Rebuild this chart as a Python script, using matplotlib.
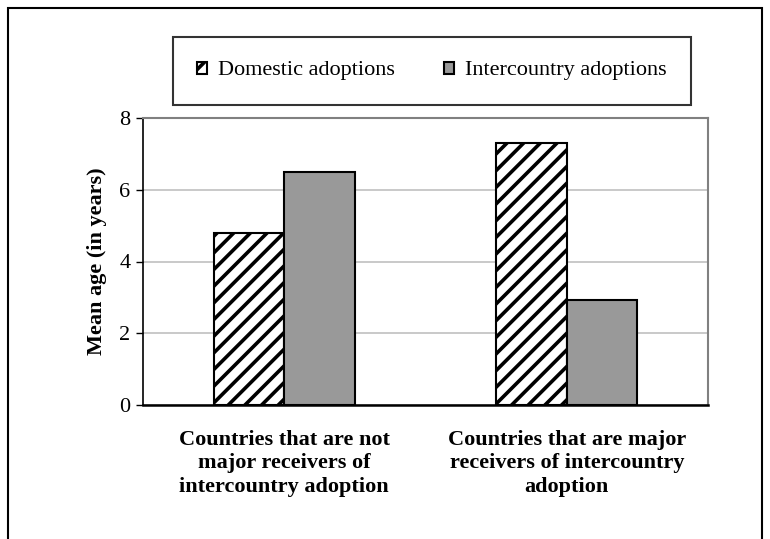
import numpy as np
import matplotlib.pyplot as plt
from matplotlib.patches import Rectangle

categories = ['Countries that are not\nmajor receivers of\nintercountry adoption',
              'Countries that are major\nreceivers of intercountry\nadoption']
domestic = [4.8, 7.3]
intercountry = [6.5, 2.93]
series_names = ['Domestic adoptions', 'Intercountry adoptions']
yticks = [0, 2, 4, 6, 8]

plt.rcParams['font.family'] = ['Liberation Serif', 'DejaVu Serif']
plt.rcParams['hatch.linewidth'] = 2.6

fig = plt.figure(figsize=(7.7, 5.39), dpi=100)
ax = fig.add_axes([143/770, 1-405/539, 565/770, 287/539])

x = np.arange(len(categories))
w = 0.25
ax.bar(x - w/2, domestic, w, color='white', edgecolor='black', hatch='//',
       linewidth=1.5, label=series_names[0], zorder=3)
ax.bar(x + w/2, intercountry, w, color='#999999', edgecolor='black',
       linewidth=1.5, label=series_names[1], zorder=3)

ax.set_xlim(-0.5, 1.5)
ax.set_ylim(0, 8)
ax.set_yticks(yticks)
ax.yaxis.grid(True, color='#c0c0c0', linewidth=1.2, zorder=0)
ax.set_axisbelow(True)
ax.tick_params(axis='y', labelsize=16, length=5, width=1, direction='out', pad=4)
ax.set_xticks(x)
ax.set_xticklabels(categories, fontsize=16, fontweight='bold', linespacing=1.22)
ax.tick_params(axis='x', length=0, pad=18)
ax.set_ylabel('Mean age (in years)', fontsize=16, fontweight='bold', labelpad=9)

for s in ['top', 'right']:
    ax.spines[s].set_color('#808080')
    ax.spines[s].set_linewidth(1.5)
ax.spines['left'].set_linewidth(1.2)
ax.spines['bottom'].set_linewidth(1.8)

leg = fig.legend(loc='center', bbox_to_anchor=(432/770, 1-71/539), ncol=2,
                 frameon=True, fancybox=False, edgecolor='black', fontsize=16,
                 handlelength=0.45, handleheight=0.45, handletextpad=0.5,
                 columnspacing=2.2, borderpad=1.1, borderaxespad=0)
leg.get_frame().set_linewidth(1.5)

# outer frame around the whole chart
fig.patches.append(Rectangle((8/770, -0.1), 754/770, 1.1 - 8/539,
                             transform=fig.transFigure, fill=False,
                             edgecolor='black', linewidth=1.5))

plt.savefig('out.png', dpi=100)
